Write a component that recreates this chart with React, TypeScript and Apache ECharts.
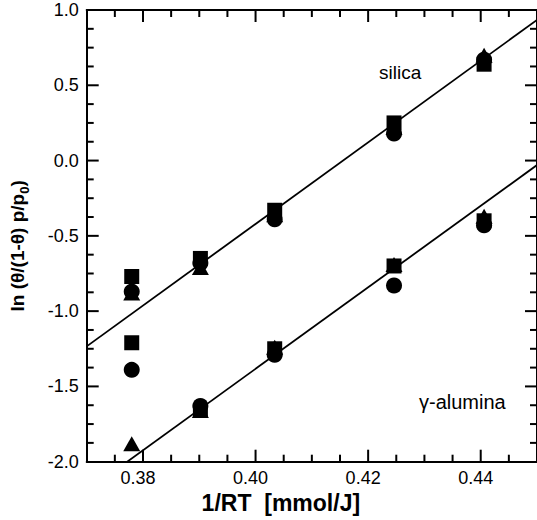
import { useEffect, useRef } from "react";
import * as echarts from "echarts";

// Measured abscissae (1/RT, mmol/J)
const xValues = [0.378, 0.3902, 0.4034, 0.4246, 0.4406];

// silica
const silicaSquare = [-0.77, -0.65, -0.33, 0.25, 0.64];
const silicaCircle = [-0.87, -0.68, -0.39, 0.18, 0.67];
const silicaTriangle = [-0.88, -0.71, -0.36, 0.22, 0.7];

// gamma-alumina
const aluminaSquare = [-1.21, -1.66, -1.25, -0.7, -0.4];
const aluminaCircle = [-1.39, -1.63, -1.29, -0.83, -0.43];
const aluminaTriangle = [-1.88, -1.66, -1.24, -0.69, -0.37];

// fitted lines (endpoints)
const fitX = [0.37, 0.45];
const silicaFit = [-1.234, 0.934];
const aluminaFit = [-2.195, -0.03];

// axis ticks
const xMajorTicks = [0.38, 0.4, 0.42, 0.44];
const xMinorTicks = [0.375, 0.385, 0.39, 0.395, 0.405, 0.41, 0.415, 0.425, 0.43, 0.435, 0.445];
const yMajorTicks = [-1.5, -1.0, -0.5, 0.0, 0.5];
const yMinorTicks = [
  -1.875, -1.75, -1.625, -1.375, -1.25, -1.125, -0.875, -0.75, -0.625,
  -0.375, -0.25, -0.125, 0.125, 0.25, 0.375, 0.625, 0.75, 0.875,
];
const xMin = 0.37;
const xMax = 0.45;
const yMin = -2;
const yMax = 1;
const yInterval = 0.5;

const FONT = "'Liberation Sans', Arial, Helvetica, sans-serif";
const BLACK = "#000";
const MAJOR_LEN = 12;
const MINOR_LEN = 7;
const TICK_W = 2;

function pairs(xs: number[], ys: number[]) {
  return xs.map((x, i) => [x, ys[i]]);
}

export default function App() {
  const ref = useRef<HTMLDivElement>(null);
  useEffect(() => {
    if (!ref.current) return;
    const chart = echarts.init(ref.current, null, { renderer: "svg" });
    const grid = { left: 86.7, top: 10, width: 452.6, height: 451.7 };

    const scatter = (name: string, ys: number[], symbol: string, size: number | number[]) => ({
      name,
      type: "scatter" as const,
      data: pairs(xValues, ys),
      symbol,
      symbolSize: size,
      itemStyle: { color: BLACK, borderWidth: 0, opacity: 1 },
      z: 3,
    });

    const fit = (name: string, ys: number[]) => ({
      name,
      type: "line" as const,
      data: pairs(fitX, ys),
      symbol: "none",
      showSymbol: false,
      clip: true,
      lineStyle: { color: BLACK, width: 1.8 },
      z: 2,
    });

    // inward tick marks, drawn as thin rectangles through the axes' scales
    const tickSeries = (
      name: string,
      data: number[][],
      size: number[],
      offset: number[]
    ) => ({
      name,
      type: "scatter" as const,
      data,
      symbol: "rect",
      symbolSize: size,
      symbolOffset: offset,
      clip: false,
      silent: true,
      itemStyle: { color: BLACK, borderWidth: 0, opacity: 1 },
      z: 6,
    });

    const ticks = [
      tickSeries("x major bottom", xMajorTicks.map((v) => [v, yMin]), [TICK_W, MAJOR_LEN], [0, -MAJOR_LEN / 2]),
      tickSeries("x minor bottom", xMinorTicks.map((v) => [v, yMin]), [TICK_W, MINOR_LEN], [0, -MINOR_LEN / 2]),
      tickSeries("x major top", xMajorTicks.map((v) => [v, yMax]), [TICK_W, MAJOR_LEN], [0, MAJOR_LEN / 2]),
      tickSeries("x minor top", xMinorTicks.map((v) => [v, yMax]), [TICK_W, MINOR_LEN], [0, MINOR_LEN / 2]),
      tickSeries("y major left", yMajorTicks.map((v) => [xMin, v]), [MAJOR_LEN, TICK_W], [MAJOR_LEN / 2, 0]),
      tickSeries("y minor left", yMinorTicks.map((v) => [xMin, v]), [MINOR_LEN, TICK_W], [MINOR_LEN / 2, 0]),
      tickSeries("y major right", yMajorTicks.map((v) => [xMax, v]), [MAJOR_LEN, TICK_W], [-MAJOR_LEN / 2, 0]),
      tickSeries("y minor right", yMinorTicks.map((v) => [xMax, v]), [MINOR_LEN, TICK_W], [-MINOR_LEN / 2, 0]),
    ];

    chart.setOption({
      animation: false,
      grid,
      xAxis: [
        {
          type: "value",
          position: "bottom",
          min: xMin,
          max: xMax,
          splitLine: { show: false },
          axisLine: { show: true, onZero: false, lineStyle: { color: BLACK, width: 2 } },
          axisTick: { show: false },
          axisLabel: {
            show: true,
            customValues: xMajorTicks,
            formatter: (v: number) => v.toFixed(2),
            color: BLACK,
            fontSize: 18,
            fontFamily: FONT,
            margin: 7,
            padding: [0, 10, 0, 0],
          },
          name: "1/RT  [mmol/J]",
          nameLocation: "middle",
          nameGap: 30,
          nameTextStyle: {
            color: BLACK,
            fontSize: 23,
            fontWeight: "bold",
            fontFamily: FONT,
            padding: [0, 62, 0, 0],
          },
        },
        {
          type: "value",
          position: "top",
          min: xMin,
          max: xMax,
          splitLine: { show: false },
          axisLine: { show: true, onZero: false, lineStyle: { color: BLACK, width: 2 } },
          axisTick: { show: false },
          axisLabel: { show: false },
        },
      ],
      yAxis: [
        {
          type: "value",
          position: "left",
          min: yMin,
          max: yMax,
          interval: yInterval,
          splitLine: { show: false },
          axisLine: { show: true, onZero: false, lineStyle: { color: BLACK, width: 2 } },
          axisTick: { show: false },
          axisLabel: {
            show: true,
            formatter: (v: number) => v.toFixed(1),
            color: BLACK,
            fontSize: 18,
            fontFamily: FONT,
            margin: 8,
          },
          name: "{n|ln (θ/(1-θ) p/p}{s|0}{n|)}",
          nameLocation: "middle",
          nameGap: 56,
          nameRotate: 90,
          nameTextStyle: {
            color: BLACK,
            fontFamily: FONT,
            padding: [0, 20, 0, 0],
            rich: {
              n: { fontSize: 19, fontWeight: "bold", fontFamily: FONT, color: BLACK, lineHeight: 26 },
              s: {
                fontSize: 13,
                fontWeight: "bold",
                fontFamily: FONT,
                color: BLACK,
                lineHeight: 13,
                verticalAlign: "bottom",
              },
            },
          },
        },
        {
          type: "value",
          position: "right",
          min: yMin,
          max: yMax,
          interval: yInterval,
          splitLine: { show: false },
          axisLine: { show: true, onZero: false, lineStyle: { color: BLACK, width: 2 } },
          axisTick: { show: false },
          axisLabel: { show: false },
        },
      ],
      graphic: [
        {
          type: "text",
          x: 379,
          y: 72,
          style: { text: "silica", fontSize: 19, fontFamily: FONT, fill: BLACK, verticalAlign: "middle" },
        },
        {
          type: "text",
          x: 419,
          y: 402,
          style: { text: "γ-alumina", fontSize: 20, fontFamily: FONT, fill: BLACK, verticalAlign: "middle" },
        },
      ],
      series: [
        fit("silica fit", silicaFit),
        fit("alumina fit", aluminaFit),
        scatter("silica ■", silicaSquare, "rect", 15),
        scatter("silica ●", silicaCircle, "circle", 16),
        scatter("silica ▲", silicaTriangle, "triangle", [17, 15]),
        scatter("alumina ■", aluminaSquare, "rect", 15),
        scatter("alumina ●", aluminaCircle, "circle", 16),
        scatter("alumina ▲", aluminaTriangle, "triangle", [17, 15]),
        ...ticks,
      ],
    });
    return () => chart.dispose();
  }, []);

  return (
    <div
      ref={ref}
      style={{ position: "absolute", left: 0, top: 0, width: 537, height: 520, background: "#fff" }}
    />
  );
}
